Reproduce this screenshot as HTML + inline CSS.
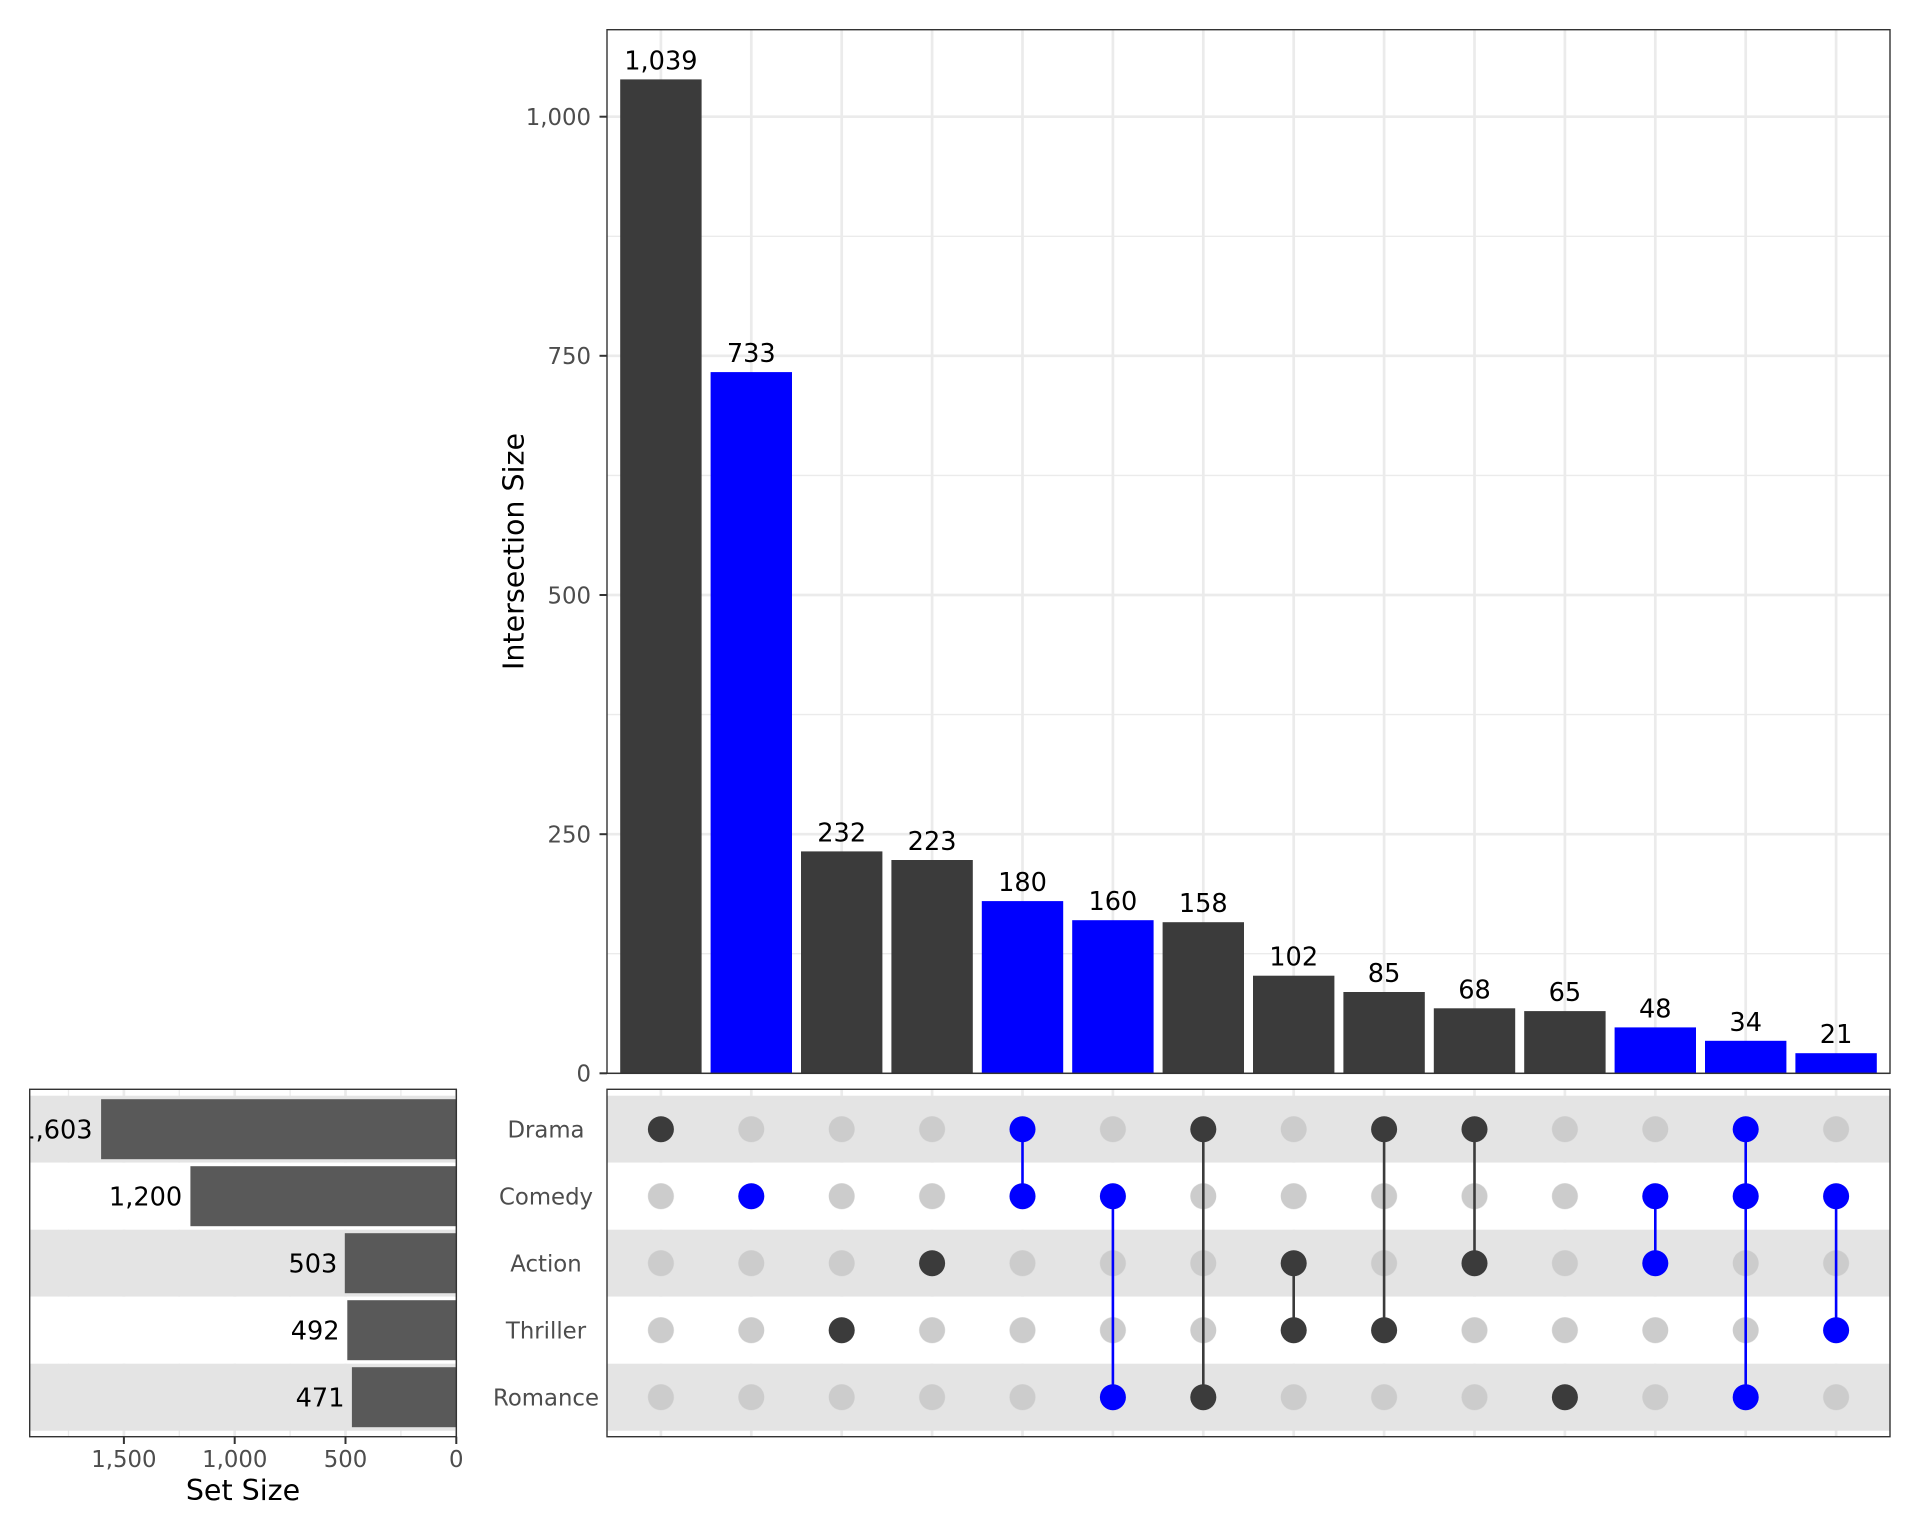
<!DOCTYPE html>
<html><head><meta charset="utf-8"><style>
html,body{margin:0;padding:0;background:#fff;}
svg{display:block;}
text{font-family:"DejaVu Sans","Liberation Sans",sans-serif;}
</style></head><body>
<svg width="1920" height="1536" viewBox="0 0 1920 1536" xmlns="http://www.w3.org/2000/svg">
<defs>
<clipPath id="lp"><rect x="29.7" y="1089.3" width="426.6" height="347.4"/></clipPath>
<pattern id="gd" patternUnits="userSpaceOnUse" x="615.7" y="1095.7" width="90.4" height="67">
<circle cx="45.2" cy="33.5" r="13" fill="#cccccc"/>
</pattern>
</defs>
<rect width="1920" height="1536" fill="#fff"/>

<!-- ===== TOP PANEL ===== -->
<g stroke="#ebebeb">
<g stroke-width="1.35">
<line x1="607" x2="1890" y1="953.7" y2="953.7"/>
<line x1="607" x2="1890" y1="714.6" y2="714.6"/>
<line x1="607" x2="1890" y1="475.4" y2="475.4"/>
<line x1="607" x2="1890" y1="236.3" y2="236.3"/>
</g>
<g stroke-width="2.7">
<line x1="607" x2="1890" y1="1073.3" y2="1073.3"/>
<line x1="607" x2="1890" y1="834.2" y2="834.2"/>
<line x1="607" x2="1890" y1="595" y2="595"/>
<line x1="607" x2="1890" y1="355.8" y2="355.8"/>
<line x1="607" x2="1890" y1="116.7" y2="116.7"/>
<line x1="660.9" x2="660.9" y1="29.7" y2="1073.3"/>
<line x1="751.3" x2="751.3" y1="29.7" y2="1073.3"/>
<line x1="841.7" x2="841.7" y1="29.7" y2="1073.3"/>
<line x1="932.1" x2="932.1" y1="29.7" y2="1073.3"/>
<line x1="1022.5" x2="1022.5" y1="29.7" y2="1073.3"/>
<line x1="1112.9" x2="1112.9" y1="29.7" y2="1073.3"/>
<line x1="1203.3" x2="1203.3" y1="29.7" y2="1073.3"/>
<line x1="1293.7" x2="1293.7" y1="29.7" y2="1073.3"/>
<line x1="1384.1" x2="1384.1" y1="29.7" y2="1073.3"/>
<line x1="1474.5" x2="1474.5" y1="29.7" y2="1073.3"/>
<line x1="1564.9" x2="1564.9" y1="29.7" y2="1073.3"/>
<line x1="1655.3" x2="1655.3" y1="29.7" y2="1073.3"/>
<line x1="1745.7" x2="1745.7" y1="29.7" y2="1073.3"/>
<line x1="1836.1" x2="1836.1" y1="29.7" y2="1073.3"/>
</g>
</g>

<g>
<rect x="620.2" y="79.4" width="81.4" height="993.9" fill="#3b3b3b"/>
<rect x="710.6" y="372.1" width="81.4" height="701.2" fill="#0000ff"/>
<rect x="801.0" y="851.4" width="81.4" height="221.9" fill="#3b3b3b"/>
<rect x="891.4" y="860.0" width="81.4" height="213.3" fill="#3b3b3b"/>
<rect x="981.8" y="901.1" width="81.4" height="172.2" fill="#0000ff"/>
<rect x="1072.2" y="920.2" width="81.4" height="153.1" fill="#0000ff"/>
<rect x="1162.6" y="922.2" width="81.4" height="151.1" fill="#3b3b3b"/>
<rect x="1253.0" y="975.7" width="81.4" height="97.6" fill="#3b3b3b"/>
<rect x="1343.4" y="992.0" width="81.4" height="81.3" fill="#3b3b3b"/>
<rect x="1433.8" y="1008.3" width="81.4" height="65.0" fill="#3b3b3b"/>
<rect x="1524.2" y="1011.1" width="81.4" height="62.2" fill="#3b3b3b"/>
<rect x="1614.6" y="1027.4" width="81.4" height="45.9" fill="#0000ff"/>
<rect x="1705.0" y="1040.8" width="81.4" height="32.5" fill="#0000ff"/>
<rect x="1795.4" y="1053.2" width="81.4" height="20.1" fill="#0000ff"/>
</g>

<g font-size="25.6" fill="#000" text-anchor="middle">
<text x="660.9" y="69.4">1,039</text>
<text x="751.3" y="362.1">733</text>
<text x="841.7" y="841.4">232</text>
<text x="932.1" y="850.0">223</text>
<text x="1022.5" y="891.1">180</text>
<text x="1112.9" y="910.2">160</text>
<text x="1203.3" y="912.2">158</text>
<text x="1293.7" y="965.7">102</text>
<text x="1384.1" y="982.0">85</text>
<text x="1474.5" y="998.3">68</text>
<text x="1564.9" y="1001.1">65</text>
<text x="1655.3" y="1017.4">48</text>
<text x="1745.7" y="1030.8">34</text>
<text x="1836.1" y="1043.2">21</text>
</g>

<rect x="607" y="29.7" width="1283" height="1043.6" fill="none" stroke="#333333" stroke-width="1.4"/>
<g stroke="#333333" stroke-width="2">
<line x1="599.5" x2="607" y1="1073.3" y2="1073.3"/>
<line x1="599.5" x2="607" y1="834.2" y2="834.2"/>
<line x1="599.5" x2="607" y1="595" y2="595"/>
<line x1="599.5" x2="607" y1="355.8" y2="355.8"/>
<line x1="599.5" x2="607" y1="116.7" y2="116.7"/>
</g>
<g font-size="22.8" fill="#4d4d4d" text-anchor="end">
<text x="591" y="1081.6">0</text>
<text x="591" y="842.5">250</text>
<text x="591" y="603.3">500</text>
<text x="591" y="364.1">750</text>
<text x="591" y="125">1,000</text>
</g>
<text transform="translate(523.5,551.5) rotate(-90)" font-size="28.5" fill="#000" text-anchor="middle">Intersection Size</text>

<!-- ===== MATRIX PANEL ===== -->
<g stroke="#ebebeb" stroke-width="2.7">
<line x1="660.9" x2="660.9" y1="1089.3" y2="1436.7"/>
<line x1="751.3" x2="751.3" y1="1089.3" y2="1436.7"/>
<line x1="841.7" x2="841.7" y1="1089.3" y2="1436.7"/>
<line x1="932.1" x2="932.1" y1="1089.3" y2="1436.7"/>
<line x1="1022.5" x2="1022.5" y1="1089.3" y2="1436.7"/>
<line x1="1112.9" x2="1112.9" y1="1089.3" y2="1436.7"/>
<line x1="1203.3" x2="1203.3" y1="1089.3" y2="1436.7"/>
<line x1="1293.7" x2="1293.7" y1="1089.3" y2="1436.7"/>
<line x1="1384.1" x2="1384.1" y1="1089.3" y2="1436.7"/>
<line x1="1474.5" x2="1474.5" y1="1089.3" y2="1436.7"/>
<line x1="1564.9" x2="1564.9" y1="1089.3" y2="1436.7"/>
<line x1="1655.3" x2="1655.3" y1="1089.3" y2="1436.7"/>
<line x1="1745.7" x2="1745.7" y1="1089.3" y2="1436.7"/>
<line x1="1836.1" x2="1836.1" y1="1089.3" y2="1436.7"/>
</g>
<rect x="607" y="1095.7" width="1283" height="67" fill="#e4e4e4"/>
<rect x="607" y="1162.7" width="1283" height="67" fill="#ffffff"/>
<rect x="607" y="1229.7" width="1283" height="67" fill="#e4e4e4"/>
<rect x="607" y="1296.7" width="1283" height="67" fill="#ffffff"/>
<rect x="607" y="1363.7" width="1283" height="67" fill="#e4e4e4"/>

<rect x="615.7" y="1095.7" width="1265.6" height="335" fill="url(#gd)"/>

<g stroke-width="2.6">
<line x1="1022.5" x2="1022.5" y1="1129.2" y2="1196.2" stroke="#0000ff"/>
<line x1="1112.9" x2="1112.9" y1="1196.2" y2="1397.2" stroke="#0000ff"/>
<line x1="1203.3" x2="1203.3" y1="1129.2" y2="1397.2" stroke="#3b3b3b"/>
<line x1="1293.7" x2="1293.7" y1="1263.2" y2="1330.2" stroke="#3b3b3b"/>
<line x1="1384.1" x2="1384.1" y1="1129.2" y2="1330.2" stroke="#3b3b3b"/>
<line x1="1474.5" x2="1474.5" y1="1129.2" y2="1263.2" stroke="#3b3b3b"/>
<line x1="1655.3" x2="1655.3" y1="1196.2" y2="1263.2" stroke="#0000ff"/>
<line x1="1745.7" x2="1745.7" y1="1129.2" y2="1397.2" stroke="#0000ff"/>
<line x1="1836.1" x2="1836.1" y1="1196.2" y2="1330.2" stroke="#0000ff"/>
</g>
<g>
<circle cx="660.9" cy="1129.2" r="13" fill="#3b3b3b"/>
<circle cx="751.3" cy="1196.2" r="13" fill="#0000ff"/>
<circle cx="841.7" cy="1330.2" r="13" fill="#3b3b3b"/>
<circle cx="932.1" cy="1263.2" r="13" fill="#3b3b3b"/>
<circle cx="1022.5" cy="1129.2" r="13" fill="#0000ff"/>
<circle cx="1022.5" cy="1196.2" r="13" fill="#0000ff"/>
<circle cx="1112.9" cy="1196.2" r="13" fill="#0000ff"/>
<circle cx="1112.9" cy="1397.2" r="13" fill="#0000ff"/>
<circle cx="1203.3" cy="1129.2" r="13" fill="#3b3b3b"/>
<circle cx="1203.3" cy="1397.2" r="13" fill="#3b3b3b"/>
<circle cx="1293.7" cy="1263.2" r="13" fill="#3b3b3b"/>
<circle cx="1293.7" cy="1330.2" r="13" fill="#3b3b3b"/>
<circle cx="1384.1" cy="1129.2" r="13" fill="#3b3b3b"/>
<circle cx="1384.1" cy="1330.2" r="13" fill="#3b3b3b"/>
<circle cx="1474.5" cy="1129.2" r="13" fill="#3b3b3b"/>
<circle cx="1474.5" cy="1263.2" r="13" fill="#3b3b3b"/>
<circle cx="1564.9" cy="1397.2" r="13" fill="#3b3b3b"/>
<circle cx="1655.3" cy="1196.2" r="13" fill="#0000ff"/>
<circle cx="1655.3" cy="1263.2" r="13" fill="#0000ff"/>
<circle cx="1745.7" cy="1129.2" r="13" fill="#0000ff"/>
<circle cx="1745.7" cy="1196.2" r="13" fill="#0000ff"/>
<circle cx="1745.7" cy="1397.2" r="13" fill="#0000ff"/>
<circle cx="1836.1" cy="1196.2" r="13" fill="#0000ff"/>
<circle cx="1836.1" cy="1330.2" r="13" fill="#0000ff"/>
</g>
<rect x="607" y="1089.3" width="1283" height="347.4" fill="none" stroke="#333333" stroke-width="1.4"/>

<g font-size="22.8" fill="#4d4d4d" text-anchor="middle">
<text x="546" y="1137.5">Drama</text>
<text x="546" y="1204.5">Comedy</text>
<text x="546" y="1271.5">Action</text>
<text x="546" y="1338.5">Thriller</text>
<text x="546" y="1405.5">Romance</text>
</g>

<!-- ===== LEFT SET SIZE PANEL ===== -->
<g stroke="#ebebeb">
<g stroke-width="1.35">
<line x1="400.9" x2="400.9" y1="1089.3" y2="1436.7"/>
<line x1="290.1" x2="290.1" y1="1089.3" y2="1436.7"/>
<line x1="179.3" x2="179.3" y1="1089.3" y2="1436.7"/>
<line x1="68.5" x2="68.5" y1="1089.3" y2="1436.7"/>
</g>
<g stroke-width="2.7">
<line x1="456.3" x2="456.3" y1="1089.3" y2="1436.7"/>
<line x1="345.5" x2="345.5" y1="1089.3" y2="1436.7"/>
<line x1="234.7" x2="234.7" y1="1089.3" y2="1436.7"/>
<line x1="123.9" x2="123.9" y1="1089.3" y2="1436.7"/>
</g>
</g>
<rect x="29.7" y="1095.7" width="426.6" height="67" fill="#e4e4e4"/>
<rect x="29.7" y="1162.7" width="426.6" height="67" fill="#ffffff"/>
<rect x="29.7" y="1229.7" width="426.6" height="67" fill="#e4e4e4"/>
<rect x="29.7" y="1296.7" width="426.6" height="67" fill="#ffffff"/>
<rect x="29.7" y="1363.7" width="426.6" height="67" fill="#e4e4e4"/>
<g fill="#595959">
<rect x="101.1" y="1099.2" width="355.2" height="60"/>
<rect x="190.4" y="1166.2" width="265.9" height="60"/>
<rect x="344.8" y="1233.2" width="111.5" height="60"/>
<rect x="347.3" y="1300.2" width="109.0" height="60"/>
<rect x="351.9" y="1367.2" width="104.4" height="60"/>
</g>
<g font-size="25.6" fill="#000" text-anchor="end" clip-path="url(#lp)">
<text x="92.6" y="1138.5">1,603</text>
<text x="182.2" y="1205.5">1,200</text>
<text x="337.3" y="1272.5">503</text>
<text x="339.6" y="1339.5">492</text>
<text x="344.5" y="1406.5">471</text>
</g>
<rect x="29.7" y="1089.3" width="426.6" height="347.4" fill="none" stroke="#333333" stroke-width="1.4"/>
<g stroke="#333333" stroke-width="2">
<line x1="456.3" x2="456.3" y1="1436.7" y2="1444"/>
<line x1="345.5" x2="345.5" y1="1436.7" y2="1444"/>
<line x1="234.7" x2="234.7" y1="1436.7" y2="1444"/>
<line x1="123.9" x2="123.9" y1="1436.7" y2="1444"/>
</g>
<g font-size="22.8" fill="#4d4d4d" text-anchor="middle">
<text x="456.3" y="1467">0</text>
<text x="345.5" y="1467">500</text>
<text x="234.7" y="1467">1,000</text>
<text x="123.9" y="1467">1,500</text>
</g>
<text x="243" y="1500" font-size="28.5" fill="#000" text-anchor="middle">Set Size</text>
</svg>
</body></html>
